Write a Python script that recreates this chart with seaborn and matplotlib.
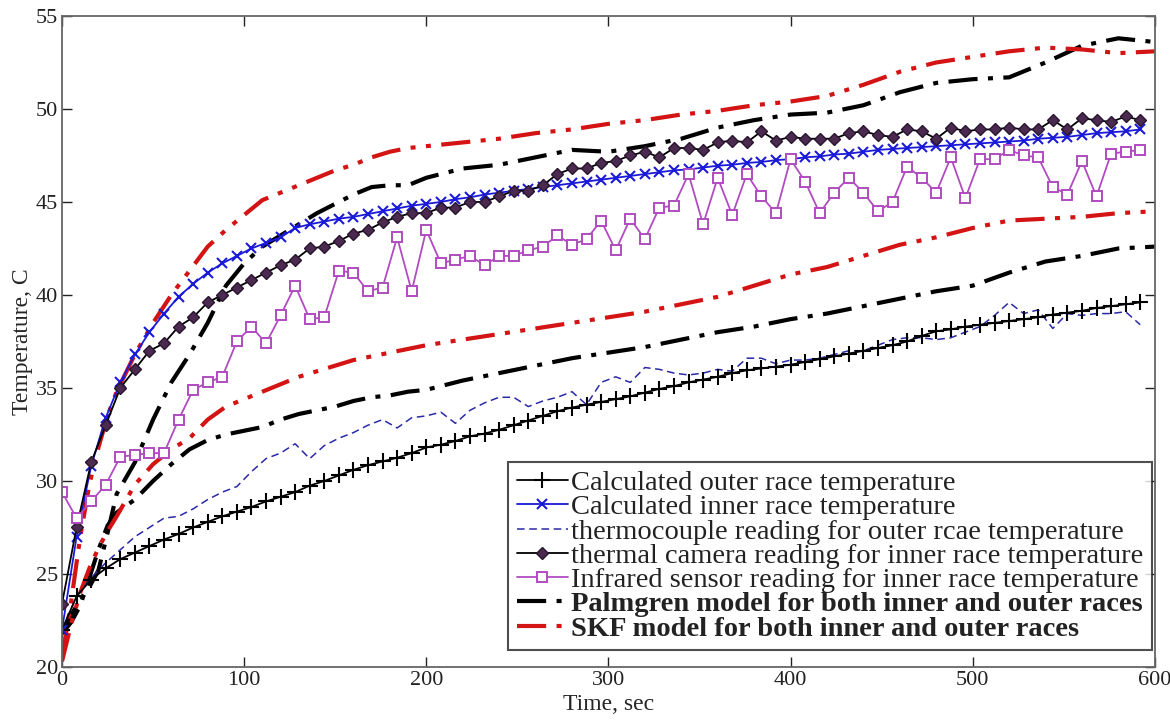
import numpy as np
import pandas as pd
import matplotlib
matplotlib.use("Agg")
import matplotlib.pyplot as plt
import seaborn as sns

# ---------------- data ----------------
t_meas = [0, 8, 16, 24, 32, 40, 48, 56, 64, 72, 80, 88, 96, 104, 112, 120, 128, 136, 144, 152,
          160, 168, 176, 184, 192, 200, 208, 216, 224, 232, 240, 248, 256, 264, 272, 280, 288, 296,
          304, 312, 320, 328, 336, 344, 352, 360, 368, 376, 384, 392, 400, 408, 416, 424, 432, 440,
          448, 456, 464, 472, 480, 488, 496, 504, 512, 520, 528, 536, 544, 552, 560, 568, 576, 584, 592]

calc_outer = [22.0, 23.8, 24.7, 25.3, 25.8, 26.15, 26.5, 26.85, 27.15, 27.5, 27.8, 28.1, 28.35, 28.6,
              28.9, 29.15, 29.4, 29.75, 30.0, 30.3, 30.6, 30.85, 31.05, 31.25, 31.5, 31.8, 31.95, 32.15,
              32.4, 32.55, 32.75, 33.0, 33.25, 33.5, 33.75, 33.95, 34.1, 34.25, 34.4, 34.55, 34.75,
              34.95, 35.1, 35.3, 35.45, 35.6, 35.8, 35.95, 36.05, 36.15, 36.25, 36.4, 36.55, 36.7,
              36.85, 37.0, 37.15, 37.3, 37.5, 37.8, 38.05, 38.15, 38.3, 38.4, 38.5, 38.6, 38.7, 38.8,
              38.95, 39.05, 39.15, 39.3, 39.4, 39.5, 39.6]

calc_inner = [22.0, 27.0, 30.8, 33.4, 35.3, 36.8, 38.0, 39.0, 39.9, 40.6, 41.2, 41.7, 42.1, 42.5,
              42.8, 43.1, 43.6, 43.8, 43.95, 44.1, 44.2, 44.35, 44.5, 44.65, 44.8, 44.9, 45.0, 45.15,
              45.25, 45.4, 45.5, 45.6, 45.7, 45.8, 45.9, 46.0, 46.1, 46.2, 46.3, 46.4, 46.5, 46.6,
              46.7, 46.75, 46.85, 46.95, 47.0, 47.1, 47.15, 47.25, 47.3, 47.4, 47.45, 47.55, 47.6,
              47.7, 47.8, 47.85, 47.9, 47.95, 48.0, 48.05, 48.1, 48.15, 48.2, 48.25, 48.3, 48.4,
              48.45, 48.5, 48.6, 48.7, 48.75, 48.8, 48.9]

thermocouple = [22.0, 23.8, 24.8, 25.6, 26.3, 27.0, 27.5, 28.0, 28.1, 28.5, 29.0, 29.4, 29.7, 30.5,
                31.2, 31.5, 32.0, 31.2, 31.9, 32.3, 32.6, 33.0, 33.3, 32.85, 33.4, 33.5, 33.7, 33.1,
                33.8, 34.2, 34.5, 34.5, 34.0, 34.3, 34.5, 34.8, 34.1, 35.3, 35.6, 35.3, 36.1, 36.0,
                35.8, 35.7, 35.8, 36.0, 35.9, 36.6, 36.6, 36.3, 36.5, 36.5, 36.6, 36.8, 37.0, 37.0,
                37.3, 37.6, 37.7, 37.7, 37.6, 37.7, 38.0, 38.3, 38.9, 39.6, 39.0, 39.2, 38.2, 39.0,
                38.9, 39.0, 39.0, 39.1, 38.4]

thermal_camera = [23.4, 27.5, 31.0, 33.0, 35.0, 36.0, 37.0, 37.4, 38.3, 38.8, 39.6, 40.0, 40.4, 40.8,
                  41.2, 41.6, 41.9, 42.5, 42.6, 42.9, 43.3, 43.5, 43.9, 44.2, 44.4, 44.4, 44.7, 44.7,
                  45.0, 45.0, 45.3, 45.6, 45.6, 45.9, 46.5, 46.8, 46.8, 47.1, 47.2, 47.5, 47.7, 47.4,
                  47.9, 47.9, 47.8, 48.2, 48.3, 48.2, 48.8, 48.3, 48.5, 48.4, 48.4, 48.4, 48.7, 48.8,
                  48.6, 48.5, 48.9, 48.8, 48.4, 49.0, 48.8, 48.9, 48.9, 49.0, 48.9, 48.9, 49.4, 48.9,
                  49.5, 49.4, 49.3, 49.6, 49.4]

infrared = [29.4, 28.0, 28.9, 29.8, 31.3, 31.4, 31.5, 31.5, 33.3, 34.9, 35.3, 35.6, 37.5, 38.3,
            37.4, 38.9, 40.5, 38.7, 38.8, 41.3, 41.2, 40.2, 40.4, 43.1, 40.2, 43.5, 41.7, 41.9,
            42.1, 41.6, 42.1, 42.1, 42.4, 42.6, 43.2, 42.7, 43.0, 44.0, 42.4, 44.1, 43.0, 44.7,
            44.8, 46.5, 43.8, 46.3, 44.3, 46.5, 45.3, 44.4, 47.3, 46.1, 44.4, 45.5, 46.3, 45.5,
            44.5, 45.0, 46.9, 46.3, 45.5, 47.4, 45.2, 47.3, 47.3, 47.8, 47.5, 47.4, 45.8, 45.4,
            47.2, 45.3, 47.6, 47.7, 47.8]

t_model = [0, 5, 10, 15, 20, 25, 30, 40, 50, 60, 70, 80, 90, 100, 110, 120, 130, 140, 150, 160, 170,
           180, 190, 200, 220, 240, 260, 280, 300, 320, 340, 360, 380, 400, 420, 440, 460, 480, 500,
           520, 540, 560, 580, 600]

palmgren_upper = [21.8, 22.8, 23.6, 24.3, 25.2, 27.2, 29.3, 31.0, 33.3, 35.3, 36.8, 38.5, 40.5, 41.7,
                  42.6, 43.2, 43.8, 44.4, 44.9, 45.4, 45.8, 45.9, 45.9, 46.3, 46.8, 47.0, 47.4, 47.8,
                  47.7, 48.0, 48.4, 49.0, 49.4, 49.7, 49.8, 50.2, 50.9, 51.4, 51.6, 51.7, 52.5, 53.4,
                  53.8, 53.6]

palmgren_lower = [21.8, 22.4, 23.3, 24.8, 26.3, 27.6, 28.3, 29.0, 30.0, 30.9, 31.7, 32.2, 32.5, 32.7,
                  32.9, 33.3, 33.6, 33.8, 34.0, 34.3, 34.5, 34.6, 34.8, 34.9, 35.4, 35.8, 36.2, 36.6,
                  36.9, 37.2, 37.6, 38.0, 38.3, 38.7, 39.0, 39.4, 39.8, 40.2, 40.5, 41.2, 41.8, 42.1,
                  42.5, 42.6]

skf_upper = [20.5, 23.5, 27.0, 29.8, 31.8, 33.5, 34.8, 36.8, 38.5, 40.0, 41.3, 42.6, 43.5, 44.3,
             45.1, 45.5, 45.9, 46.3, 46.7, 47.0, 47.4, 47.7, 47.9, 48.0, 48.2, 48.4, 48.7, 48.9,
             49.2, 49.4, 49.7, 49.9, 50.2, 50.4, 50.7, 51.3, 52.0, 52.5, 52.8, 53.1, 53.3, 53.2,
             53.0, 53.1]

skf_lower = [20.3, 22.3, 24.0, 25.3, 26.4, 27.3, 28.1, 29.8, 30.9, 31.7, 32.3, 33.3, 34.0, 34.4,
             34.8, 35.2, 35.6, 35.9, 36.2, 36.5, 36.7, 36.9, 37.1, 37.3, 37.6, 37.9, 38.2, 38.5,
             38.8, 39.1, 39.5, 39.9, 40.5, 41.1, 41.5, 42.1, 42.7, 43.1, 43.6, 44.0, 44.1, 44.2,
             44.4, 44.5]

labels = ["Calculated outer race temperature",
          "Calculated inner race temperature",
          "thermocouple reading for outer rcae temperature",
          "thermal camera reading for inner race temperature",
          "Infrared sensor reading for inner race temperature",
          "Palmgren model for both inner and outer races",
          "SKF model for both inner and outer races"]

x_ticks = [0, 100, 200, 300, 400, 500, 600]
y_ticks = [20, 25, 30, 35, 40, 45, 50, 55]

# ---------------- style ----------------
sns.set_theme(style="white")
plt.rcParams['font.family'] = ['Liberation Serif', 'DejaVu Serif']

fig = plt.figure(figsize=(11.7, 7.26), dpi=100)
ax = fig.add_axes([0.053, 0.0813, 0.934, 0.8967])

pal_ls = (0, (7, 2.5, 1.2, 2.5))
skf_ls = (0, (7, 2.5, 1.2, 2.5, 1.2, 2.5))
RED = "#d41414"

# model lines first (drawn beneath measured ones)
sns.lineplot(x=t_model, y=palmgren_upper, ax=ax, color="black", lw=3.0,
             linestyle=pal_ls, legend=False)
h_pal = ax.get_lines()[-1]
sns.lineplot(x=t_model, y=palmgren_lower, ax=ax, color="black", lw=3.0,
             linestyle=pal_ls, legend=False)
sns.lineplot(x=t_model, y=skf_upper, ax=ax, color=RED, lw=3.0,
             linestyle=skf_ls, legend=False)
h_skf = ax.get_lines()[-1]
sns.lineplot(x=t_model, y=skf_lower, ax=ax, color=RED, lw=3.0,
             linestyle=skf_ls, legend=False)

sns.lineplot(x=t_meas, y=thermocouple, ax=ax, color="#2a2aa8", lw=1.1,
             linestyle=(0, (5, 3)), legend=False)
h_co = ax.get_lines()[-1]
sns.lineplot(x=t_meas, y=calc_outer, ax=ax, color="black", lw=1.3, marker="+",
             markersize=12, markeredgewidth=1.5, markeredgecolor="black", legend=False)
h_out = ax.get_lines()[-1]
sns.lineplot(x=t_meas, y=calc_inner, ax=ax, color="#1a1ad8", lw=1.3, marker="x",
             markersize=7, markeredgewidth=1.5, markeredgecolor="#1a1ad8", legend=False)
h_in = ax.get_lines()[-1]
sns.lineplot(x=t_meas, y=thermal_camera, ax=ax, color="black", lw=1.3, marker="D",
             markersize=6, markerfacecolor="#4a2a4e", markeredgecolor="#2a1530",
             markeredgewidth=1.0, legend=False)
h_tc = ax.get_lines()[-1]
sns.lineplot(x=t_meas, y=infrared, ax=ax, color="#b04cc0", lw=1.3, marker="s",
             markersize=7.5, markerfacecolor="white", markeredgecolor="#b04cc0",
             markeredgewidth=1.4, legend=False)
h_ir = ax.get_lines()[-1]

ax.set_xlim(0, 600)
ax.set_ylim(20, 55)
ax.set_xticks(x_ticks)
ax.set_yticks(y_ticks)
ax.tick_params(direction="in", length=7, width=1.0, colors="#222222", labelsize=16,
               top=True, right=True, bottom=True, left=True, pad=3)
for s in ax.spines.values():
    s.set_color("#666666")
    s.set_linewidth(1.3)
ax.set_xlabel("Time, sec", fontsize=17, labelpad=3)
ax.set_ylabel("Temperature, C", fontsize=17, labelpad=2)

leg = ax.legend([h_out, h_in, h_co, h_tc, h_ir, h_pal, h_skf], labels,
                loc="lower right", bbox_to_anchor=(0.997, 0.026), fontsize=20.5,
                frameon=True, fancybox=False, handlelength=1.8, handletextpad=0.1,
                labelspacing=-0.06, borderpad=0.3, borderaxespad=0.0)
leg.get_frame().set_edgecolor("#222222")
leg.get_frame().set_linewidth(1.5)
for txt in leg.get_texts()[5:]:
    txt.set_fontweight("bold")
for txt in leg.get_texts():
    txt.set_color("#222222")

fig.savefig("out.png", dpi=100)
